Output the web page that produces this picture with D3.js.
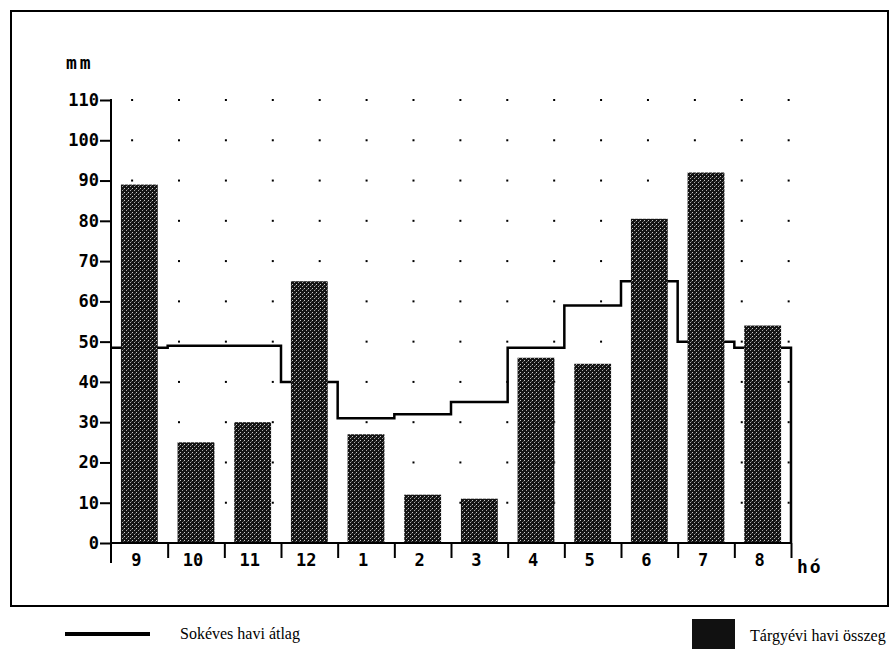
<!DOCTYPE html>
<html>
<head>
<meta charset="utf-8">
<script src="https://cdn.jsdelivr.net/npm/d3@7"></script>
<style>
  body { margin: 0; background: #fff; }
  .axis path, .axis line { stroke: #000; stroke-width: 2; }
  .axis text { font-family: "DejaVu Sans Mono", monospace; font-weight: bold; font-size: 17px; fill: #000; }
  .unit { font-family: "DejaVu Sans Mono", monospace; font-weight: bold; font-size: 18px; }
  .legend { font-family: "Liberation Serif", serif; font-size: 16px; }
</style>
</head>
<body>
<div id="chart"></div>
<script>
// months of the hydrological year (Sept - Aug)
var months = ["9", "10", "11", "12", "1", "2", "3", "4", "5", "6", "7", "8"];
// this year's monthly total (mm)
var monthly = [89, 25, 30, 65, 27, 12, 11, 46, 44.5, 80.5, 92, 54];
// long term monthly average (mm)
var average = [48.5, 49, 49, 40, 31, 32, 35, 48.5, 59, 65, 50, 48.5];
var yTicks = [0, 10, 20, 30, 40, 50, 60, 70, 80, 90, 100, 110];
var dotLevels = [10, 20, 30, 40, 50, 60, 70, 80, 90, 100, 110];
var dotCols = d3.range(15);

function drawChart() {
    var w = 893, h = 659;
    var pLeft = 111, pRight = 791, pTop = 100, pBottom = 543;

    var svg = d3.select("#chart").append("svg")
        .attr("width", w)
        .attr("height", h);

    // speckled fill for the bars
    var pat = svg.append("defs").append("pattern")
        .attr("id", "speck")
        .attr("width", 4).attr("height", 4)
        .attr("patternUnits", "userSpaceOnUse");
    pat.append("rect").attr("width", 4).attr("height", 4).attr("fill", "#141414");
    pat.append("rect").attr("x", 0).attr("y", 0).attr("width", 1).attr("height", 1).attr("fill", "#ccc");
    pat.append("rect").attr("x", 2).attr("y", 2).attr("width", 1).attr("height", 1).attr("fill", "#aaa");
    pat.append("rect").attr("x", 3).attr("y", 1).attr("width", 1).attr("height", 1).attr("fill", "#555");

    // frame
    svg.append("rect")
        .attr("x", 11).attr("y", 11)
        .attr("width", 877).attr("height", 595)
        .attr("fill", "none")
        .attr("stroke", "#000")
        .attr("stroke-width", 2);

    var yScale = d3.scaleLinear().domain([0, 110]).range([pBottom, pTop]);
    var xScale = d3.scaleBand().domain(months).range([pLeft, pRight])
        .paddingInner(0.35).paddingOuter(0.175);
    var xIdx = d3.scaleLinear().domain([0, 12]).range([pLeft, pRight]);
    var dotX = d3.scaleLinear().domain([0, 14.5]).range([pLeft, pRight]);

    // dotted grid
    dotLevels.forEach(function (v) {
        svg.selectAll(null)
            .data(dotCols)
            .enter().append("rect")
            .attr("x", function (i) { return dotX(i + 0.45) - 1; })
            .attr("y", yScale(v) - 1)
            .attr("width", 2).attr("height", 2)
            .attr("fill", "#000");
    });

    // step line of the long term average (drawn under the bars)
    var pts = average.map(function (d, i) { return [i, d]; });
    pts.push([12, average[11]]);
    pts.push([12, 0]);
    var step = d3.line()
        .curve(d3.curveStepAfter)
        .x(function (d) { return xIdx(d[0]); })
        .y(function (d) { return yScale(d[1]); });
    svg.append("path")
        .datum(pts)
        .attr("d", step)
        .attr("fill", "none")
        .attr("stroke", "#000")
        .attr("stroke-width", 2.5);

    // bars
    svg.selectAll(".bar")
        .data(monthly)
        .enter().append("rect")
        .attr("class", "bar")
        .attr("x", function (d, i) { return xScale(months[i]); })
        .attr("y", function (d) { return yScale(d); })
        .attr("width", xScale.bandwidth())
        .attr("height", function (d) { return yScale(0) - yScale(d); })
        .attr("fill", "url(#speck)");

    // y axis
    var yAxis = d3.axisLeft(yScale).tickValues(yTicks).tickSize(11).tickPadding(1);
    var gy = svg.append("g").attr("class", "axis")
        .attr("transform", "translate(" + pLeft + ",0)")
        .call(yAxis);
    gy.select(".domain").remove();
    gy.append("line")
        .attr("x1", 0).attr("x2", 0)
        .attr("y1", yScale(110) - 1).attr("y2", pBottom + 20)
        .attr("stroke", "#000").attr("stroke-width", 2);

    // x axis: boundary ticks
    var xb = d3.axisBottom(xIdx).tickValues(d3.range(1, 13)).tickSize(15).tickFormat("");
    var gx = svg.append("g").attr("class", "axis")
        .attr("transform", "translate(0," + pBottom + ")")
        .call(xb);
    gx.select(".domain").attr("d", "M" + pLeft + ",0H" + pRight);

    // x axis: month labels
    var xl = d3.axisBottom(xScale).tickSize(0).tickPadding(11);
    var gl = svg.append("g").attr("class", "axis")
        .attr("transform", "translate(-3," + pBottom + ")")
        .call(xl);
    gl.select(".domain").remove();

    // unit labels
    svg.append("text").attr("class", "unit")
        .attr("x", 66).attr("y", 69)
        .attr("letter-spacing", 3)
        .text("mm");
    svg.append("text").attr("class", "unit")
        .attr("x", 797).attr("y", 573)
        .attr("letter-spacing", 2)
        .text("hó");

    // legend
    svg.append("line")
        .attr("x1", 65).attr("x2", 150)
        .attr("y1", 634).attr("y2", 634)
        .attr("stroke", "#000").attr("stroke-width", 4);
    svg.append("text").attr("class", "legend")
        .attr("x", 180).attr("y", 639)
        .text("Sokéves havi átlag");
    svg.append("rect")
        .attr("x", 692).attr("y", 619)
        .attr("width", 43).attr("height", 30)
        .attr("fill", "#111");
    svg.append("text").attr("class", "legend")
        .attr("x", 750).attr("y", 641)
        .text("Tárgyévi havi összeg");
}

window.onload = drawChart;
</script>
</body>
</html>
